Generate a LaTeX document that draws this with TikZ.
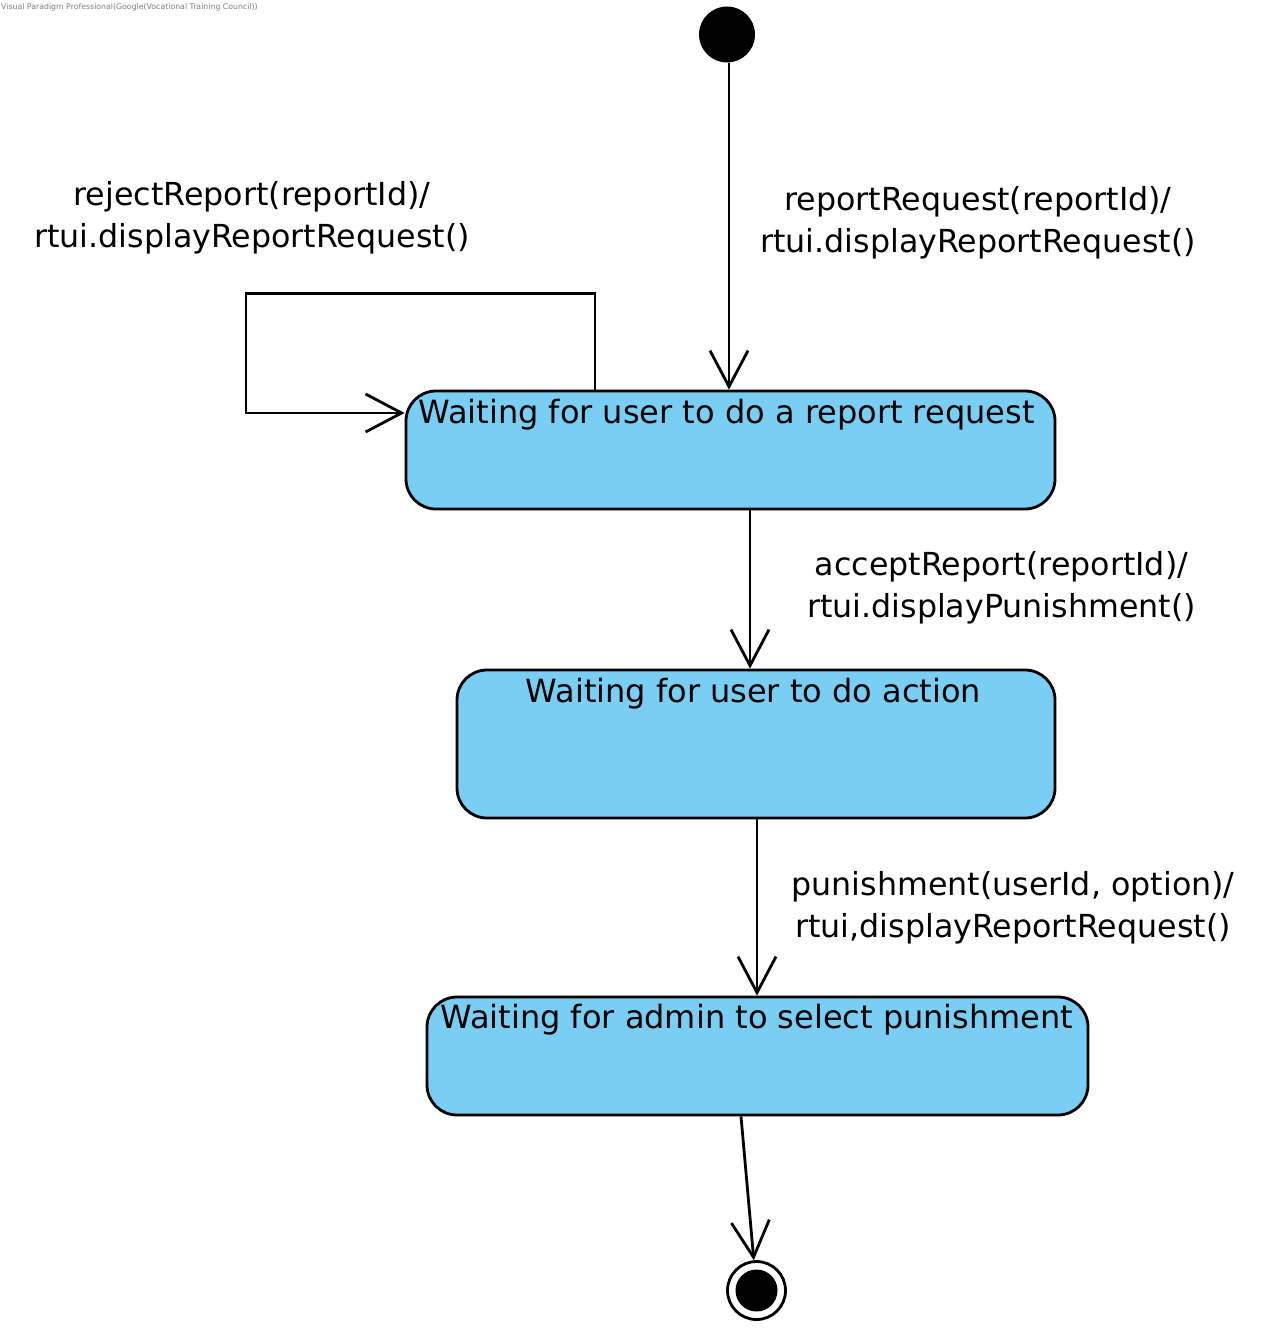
\documentclass[tikz,border=0pt]{standalone}
\usepackage{fontspec}
\setmainfont{DejaVu Sans}
\usetikzlibrary{arrows.meta}
\definecolor{stateblue}{RGB}{122,206,243}
\definecolor{wmgray}{RGB}{128,128,128}
\begin{document}
\begin{tikzpicture}[x=1pt,y=-1pt,
  statebox/.style={draw=black, line width=2.8pt, fill=stateblue, rectangle, rounded corners=30pt, inner sep=0pt},
  statetext/.style={anchor=base, inner sep=0pt, font=\fontsize{32}{38}\selectfont},
  trlabel/.style={anchor=north, inner sep=0pt, align=center, font=\fontsize{31.7}{42}\selectfont},
  trans/.style={draw=black, line width=2.8pt, -{Straight Barb[length=36pt, width=38pt, line width=2.8pt]}},
]
\useasboundingbox (0,0) rectangle (1287,1332);
\fill[white] (0,0) rectangle (1287,1332);

\node[anchor=north west, inner sep=0pt, text=wmgray, font=\fontsize{7.8}{9}\selectfont] (wm) at (1,3) {Visual Paradigm Professional(Google(Vocational Training Council))};

% initial and final states
\node[circle, fill=black, minimum size=56pt, inner sep=0pt] (init) at (727,34.5) {};
\node[circle, draw=black, line width=2.8pt, minimum size=58pt, inner sep=0pt] (fin) at (756.5,1290.5) {};
\fill[black] (fin.center) circle (21);

% states
\node[statebox, minimum width=649pt, minimum height=118pt] (s1) at (730.5,450) {};
\node[statetext] (s1t) at (726.5,423) {Waiting for user to do a report request};
\node[statebox, minimum width=598pt, minimum height=148pt] (s2) at (756,744) {};
\node[statetext] (s2t) at (753.5,702) {Waiting for user to do action};
\node[statebox, minimum width=661pt, minimum height=118pt] (s3) at (757.5,1056) {};
\node[statetext] (s3t) at (757,1028) {Waiting for admin to select punishment};

% transitions
\draw[trans] ([xshift=2pt]init.south) -- ([xshift=2pt]init.south |- s1.north);
\draw[trans] ([xshift=-135.5pt]s1.north) -- ++(0,-96) -| (246,413) -- (s1.west |- 0,413);
\draw[trans] ([xshift=19.5pt]s1.south) -- ([xshift=19.5pt]s1.south |- s2.north);
\draw[trans] ([xshift=1pt]s2.south) -- ([xshift=1pt]s2.south |- s3.north);
\draw[trans] ([xshift=-16.5pt]s3.south) -- (fin);

% labels
\node[trlabel] (l0) at (978,186) {reportRequest(reportId)/\\rtui.displayReportRequest()};
\node[trlabel] (l1) at (252,181) {rejectReport(reportId)/\\rtui.displayReportRequest()};
\node[trlabel] (l2) at (1001.5,551) {acceptReport(reportId)/\\rtui.displayPunishment()};
\node[trlabel] (l3) at (1013,871) {punishment(userId, option)/\\rtui,displayReportRequest()};
\end{tikzpicture}
\end{document}
